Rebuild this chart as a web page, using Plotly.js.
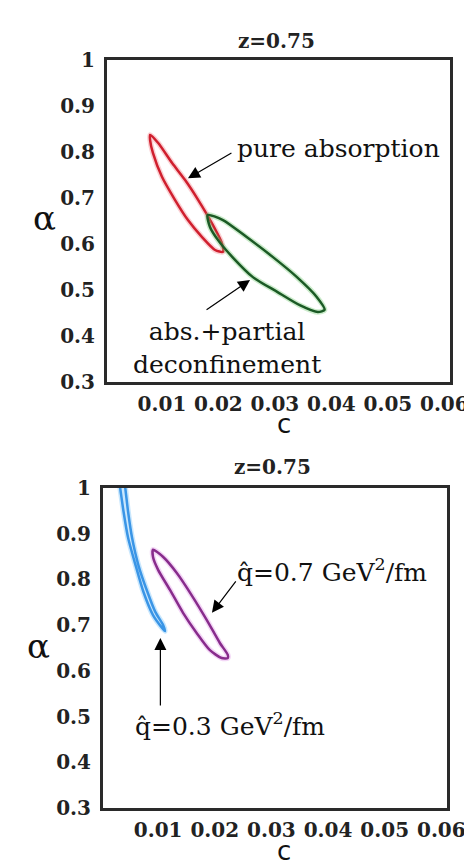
<!DOCTYPE html>
<html>
<head>
<meta charset="utf-8">
<script src="https://cdn.plot.ly/plotly-3.0.1.min.js"></script>
<style>html,body{margin:0;padding:0;background:#fff;}#chart{width:464px;height:862px;}</style>
</head>
<body>
<div id="chart"></div>
<script>
// ---- data ----
const xTickVals = [0.01, 0.02, 0.03, 0.04, 0.05, 0.06];
const xTickText = ['0.01', '0.02', '0.03', '0.04', '0.05', '0.06'];
const yTickVals = [0.3, 0.4, 0.5, 0.6, 0.7, 0.8, 0.9, 1.0];
const yTickText = ['0.3', '0.4', '0.5', '0.6', '0.7', '0.8', '0.9', '1'];

// top panel: pure absorption (red) contour
const redX = [0.0079, 0.0093, 0.0118, 0.0141, 0.0164, 0.0188, 0.0206, 0.0208, 0.0194, 0.0171, 0.0146, 0.0123, 0.0100, 0.0084, 0.0079, 0.0079];
const redY = [0.837, 0.820, 0.776, 0.739, 0.696, 0.646, 0.602, 0.583, 0.587, 0.615, 0.652, 0.696, 0.746, 0.798, 0.826, 0.837];
// top panel: abs.+partial deconfinement (green) contour
const greenX = [0.0181, 0.0208, 0.0250, 0.0296, 0.0339, 0.0374, 0.0388, 0.0376, 0.0344, 0.0304, 0.0261, 0.0226, 0.0199, 0.0185, 0.0181];
const greenY = [0.663, 0.652, 0.615, 0.572, 0.528, 0.485, 0.457, 0.452, 0.467, 0.496, 0.528, 0.570, 0.609, 0.637, 0.663];
// bottom panel: qhat=0.3 (blue) contour
const blueX = [0.0028, 0.0033, 0.0039, 0.0047, 0.0060, 0.0074, 0.0091, 0.0107, 0.0112, 0.0109, 0.0095, 0.0081, 0.0065, 0.0054, 0.0047, 0.0042, 0.0037, 0.0028];
const blueY = [1.040, 1.000, 0.948, 0.891, 0.832, 0.773, 0.722, 0.694, 0.687, 0.700, 0.729, 0.773, 0.832, 0.891, 0.948, 1.000, 1.044, 1.040];
// bottom panel: qhat=0.7 (purple) contour
const purpleX = [0.0091, 0.0109, 0.0133, 0.0161, 0.0186, 0.0209, 0.0223, 0.0223, 0.0212, 0.0191, 0.0168, 0.0144, 0.0121, 0.0100, 0.0091, 0.0091];
const purpleY = [0.865, 0.849, 0.814, 0.762, 0.711, 0.661, 0.635, 0.628, 0.628, 0.646, 0.683, 0.727, 0.777, 0.821, 0.849, 0.865];

const panelTitle = 'z=0.75';
const xLabel = 'c';
const yLabel = 'α';
const labelPure = 'pure absorption';
const labelPartial = 'abs.+partial<br>deconfinement';
const labelQ07 = 'q\u0302=0.7 GeV<sup>2</sup>/fm';
const labelQ03 = 'q\u0302=0.3 GeV<sup>2</sup>/fm';

// ---- helpers ----
const W = 464, H = 862;
const px = v => v / W;
const py = v => 1 - v / H;

function loop(x, y, core, glow, xa, ya) {
  return [
    {x: x, y: y, xaxis: xa, yaxis: ya, mode: 'lines', line: {color: glow, width: 5.5, shape: 'spline', smoothing: 0.7}, hoverinfo: 'skip', showlegend: false},
    {x: x, y: y, xaxis: xa, yaxis: ya, mode: 'lines', line: {color: core, width: 2.5, shape: 'spline', smoothing: 0.7}, hoverinfo: 'skip', showlegend: false}
  ];
}

const data = [].concat(
  loop(redX, redY, '#d01f2e', 'rgba(240,120,130,0.35)', 'x', 'y'),
  loop(greenX, greenY, '#1b5a25', 'rgba(110,200,110,0.35)', 'x', 'y'),
  loop(blueX, blueY, '#3a95e6', 'rgba(120,195,250,0.4)', 'x2', 'y2'),
  loop(purpleX, purpleY, '#882c8c', 'rgba(220,140,230,0.35)', 'x2', 'y2')
);

const tickFont = {family: 'DejaVu Serif', size: 20, weight: 'bold', color: '#222'};
function xa(domain, anchor) {
  return {domain: domain, anchor: anchor, range: [0.00027, 0.061], showline: true, mirror: true, linewidth: 3, linecolor: '#2a2a2a',
    showgrid: false, zeroline: false, ticks: '', tickvals: xTickVals, ticktext: xTickText, tickfont: tickFont,
    ticklabelstandoff: 2, ticklabeloverflow: 'allow'};
}
function ya(domain, anchor) {
  return {domain: domain, anchor: anchor, range: [0.3, 1.0], showline: true, mirror: true, linewidth: 3, linecolor: '#2a2a2a',
    showgrid: false, zeroline: false, ticks: '', tickvals: yTickVals, ticktext: yTickText, tickfont: tickFont,
    ticklabelstandoff: 5, ticklabeloverflow: 'allow'};
}

const serif = {family: 'DejaVu Serif', size: 25, color: '#111'};
const titleFont = {family: 'DejaVu Serif', size: 20, weight: 'bold', color: '#222'};
const labelFont = {family: 'DejaVu Sans', size: 26, color: '#111'};
const alphaFont = {family: 'DejaVu Serif', size: 34, color: '#111'};
const annots = [
  {xref: 'paper', yref: 'paper', x: px(276), y: py(41), text: panelTitle, showarrow: false, font: titleFont, xanchor: 'center', yanchor: 'middle'},
  {xref: 'paper', yref: 'paper', x: px(272), y: py(467), text: panelTitle, showarrow: false, font: titleFont, xanchor: 'center', yanchor: 'middle'},
  {xref: 'paper', yref: 'paper', x: px(284), y: py(424), text: xLabel, showarrow: false, font: labelFont, xanchor: 'center', yanchor: 'middle'},
  {xref: 'paper', yref: 'paper', x: px(284), y: py(851), text: xLabel, showarrow: false, font: labelFont, xanchor: 'center', yanchor: 'middle'},
  {xref: 'paper', yref: 'paper', x: px(44), y: py(218), text: yLabel, showarrow: false, font: alphaFont, xanchor: 'center', yanchor: 'middle'},
  {xref: 'paper', yref: 'paper', x: px(38), y: py(646), text: yLabel, showarrow: false, font: alphaFont, xanchor: 'center', yanchor: 'middle'},
  {xref: 'paper', yref: 'paper', x: px(235), y: py(148), text: labelPure, showarrow: false, font: serif, xanchor: 'left', yanchor: 'middle'},
  {xref: 'paper', yref: 'paper', x: px(227), y: py(348), text: labelPartial, showarrow: false, font: serif, xanchor: 'center', yanchor: 'middle'},
  {xref: 'paper', yref: 'paper', x: px(235), y: py(570), text: labelQ07, showarrow: false, font: serif, xanchor: 'left', yanchor: 'middle'},
  {xref: 'paper', yref: 'paper', x: px(133), y: py(724), text: labelQ03, showarrow: false, font: serif, xanchor: 'left', yanchor: 'middle'},
  // arrows
  {xref: 'x', yref: 'y', x: 0.0146, y: 0.743, ax: 45, ay: -26, text: '', showarrow: true, arrowhead: 2, arrowsize: 2, arrowwidth: 1.2, arrowcolor: '#000'},
  {xref: 'x', yref: 'y', x: 0.0256, y: 0.522, ax: -45, ay: 31, text: '', showarrow: true, arrowhead: 2, arrowsize: 2, arrowwidth: 1.2, arrowcolor: '#000'},
  {xref: 'x2', yref: 'y2', x: 0.0195, y: 0.727, ax: 25, ay: -33, text: '', showarrow: true, arrowhead: 2, arrowsize: 2, arrowwidth: 1.2, arrowcolor: '#000'},
  {xref: 'x2', yref: 'y2', x: 0.0104, y: 0.672, ax: 0, ay: 69, text: '', showarrow: true, arrowhead: 2, arrowsize: 2, arrowwidth: 1.2, arrowcolor: '#000'}
];

const layout = {
  width: W, height: H,
  margin: {l: 0, r: 0, t: 0, b: 0},
  paper_bgcolor: '#fff', plot_bgcolor: '#fff',
  showlegend: false,
  xaxis: xa([px(107), px(450)], 'y'),
  yaxis: ya([py(382), py(60)], 'x'),
  xaxis2: xa([px(103), px(447)], 'y2'),
  yaxis2: ya([py(808), py(488)], 'x2'),
  annotations: annots
};

Plotly.newPlot('chart', data, layout, {staticPlot: true, displayModeBar: false});
</script>
</body>
</html>
